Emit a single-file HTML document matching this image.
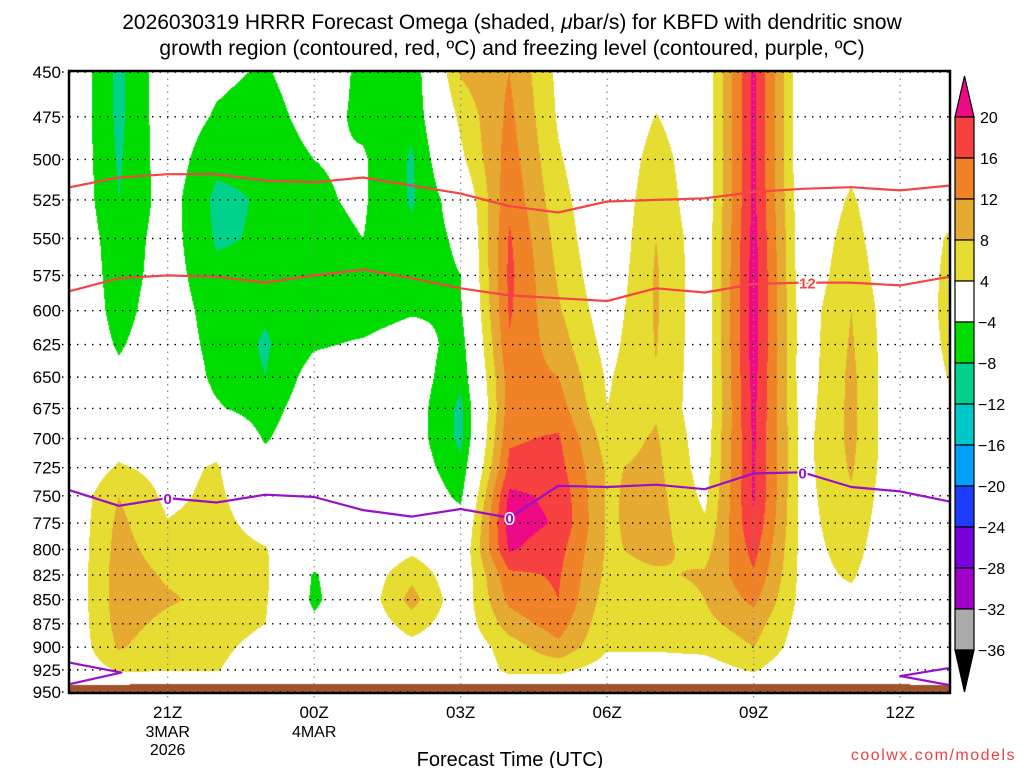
<!DOCTYPE html>
<html><head><meta charset="utf-8">
<style>
html,body{margin:0;padding:0;background:#fff;}
#wrap{position:relative;width:1024px;height:768px;overflow:hidden;font-family:"Liberation Sans",sans-serif;}
canvas{position:absolute;left:0;top:0;}
svg{position:absolute;left:0;top:0;}
</style></head>
<body>
<div id="wrap">
<canvas id="cv" width="1024" height="768"></canvas>
<svg id="sv" width="1024" height="768" xmlns="http://www.w3.org/2000/svg">
  <text x="512" y="29" text-anchor="middle" font-size="21" fill="#000">2026030319 HRRR Forecast Omega (shaded, <tspan font-style="italic">μ</tspan>bar/s) for KBFD with dendritic snow</text>
  <text x="512" y="55" text-anchor="middle" font-size="21" fill="#000">growth region (contoured, red, ºC) and freezing level (contoured, purple, ºC)</text>
  <text x="510" y="766" text-anchor="middle" font-size="20" fill="#000">Forecast Time (UTC)</text>
  <text x="1016" y="760" text-anchor="end" font-size="16" fill="#f04040" letter-spacing="1.5">coolwx.com/models</text>
  <g id="gGrid"></g>
  <g id="gLines"></g>
  <g id="gAxes"></g>
  <g id="gBar"></g>
</svg>
</div>
<script>
// ---- data ----
const hours = ["19Z","20Z","21Z","22Z","23Z","00Z","01Z","02Z","03Z","04Z","05Z","06Z","07Z","08Z","09Z","10Z","11Z","12Z","13Z"];
const levels = [450,475,500,525,550,575,600,625,650,675,700,725,750,775,800,825,850,875,900,925,950];
const omega = [
 [0,0,0,0,0,0,0,0,0,0,0,0,0.5,0.5,0.5,0.5,0.5,0.5,0.5,0.5,0],
 [-9,-9,-8.5,-8,-6.5,-6,-5.5,-4.5,-3,0,2,4.5,8,9,9.5,10,10,9.5,8.5,4.5,0],
 [-1,-1,-1.5,-2,-2,-2,-1.5,-1,0,0,1,2.5,3,4.2,6,7.5,8.5,7,5.5,4.2,0],
 [-3,-4.5,-7,-9,-8.5,-7,-6,-5.5,-5,-3.5,2,4.5,5,5.5,6,6.5,6.8,6,5,4.2,0],
 [-4.5,-6,-7,-7.5,-7.5,-7,-7.5,-8.5,-8,-6,-4.5,-2,0,2,4.3,4.8,4.5,4,2.5,1.5,0],
 [-1,-2,-4,-4.5,-5,-5.5,-5.5,-4.5,-2,-1,0,0,0,0,-1,-4.5,-5,-3,-1,0,0],
 [-5,-5,-3.5,-3.5,-4,-6,-6,-3.5,-1,0,0,0,0,0,0,1,1,0.5,0,0,0],
 [-7,-7,-8.5,-8.5,-7,-6.5,-4.5,-1.5,-1.5,-1.5,-1.5,-1,0,0,3,7,9.5,6,2.5,0,0],
 [8.5,5,3,-1,-3,-4,-4.5,-6,-7,-9,-9,-7,-5,-2,0,0.5,1,1,0.5,0,0],
 [12,13,14,15,16.5,17,16.5,15.5,14,14,15.5,17,21,22,20.5,15,13,10,6,5,0],
 [3,3.5,4.5,5.5,6.5,7.5,8.5,10,12,14,16.5,17.5,19,19.5,17.5,16.5,16,14,11,5,0],
 [-1,-1,-0.5,0,0,0.5,1.5,2.5,3.5,4,6,7.5,7.5,7.5,7.5,7,6,5,4.5,2,0],
 [2,4.2,6,7,8,8.5,8.5,8.2,7.8,7.5,8.5,9,9.5,9.5,9,7.5,6,5,4.5,2,0],
 [0.5,0.5,0.5,0.5,1,1,1,1,1,1,1.5,2,3,4.5,6.5,8.5,8,7,5,2,0],
 [21,21,21,21,21.5,22,22,22,21.5,21,20.8,20.5,20.5,19.5,17.5,15.5,13,10,8,4.5,0],
 [0,0,0,0.5,1,1,1.5,1.5,1.5,2,2.5,2.5,2.5,2.5,2.5,2.5,2.5,2,1.5,0,0],
 [1,2,3,4.5,5.5,6.5,8,8.5,9,9,9,8.5,7.5,6.5,5.5,4.5,3,2,1,0,0],
 [0,0,0,0,0,0,0,0,0,0,0,0,0,0,0,0,0,0,0,0,0],
 [0,0,0,2,4.5,5,5.2,4.8,4.2,2,0,0,0,0,0,0,0,0,0,0,0]
];
const dgzTopP = [517,511,509,509,513,514,511,516,521,529,533,526,525,524,520,518,517,519,516];
const dgzBotP = [586,577,575,576,580,575,571,577,584,589,591,593,584,587,581,580,580,582,576];
const frzP = [745,759,752,756,749,751,763,769,762,770,741,742,740,744,730,729,742,746,755];
const frzLowLeftH = [0,1.05,0];
const frzLowLeftP = [917,928,941];
const frzLowRightH = [18,17,18];
const frzLowRightP = [923,932,942];
const yTicks = [450,475,500,525,550,575,600,625,650,675,700,725,750,775,800,825,850,875,900,925,950];
const xTickHours = [2,5,8,11,14,17];
const xTickLabels = ["21Z","00Z","03Z","06Z","09Z","12Z"];
const xTickSub1 = ["3MAR","4MAR","","","",""];
const xTickSub2 = ["2026","","","","",""];
const barBounds = [20,16,12,8,4,-4,-8,-12,-16,-20,-24,-28,-32,-36];
const barColors = ["#ee0a87","#f74040","#f08228","#e6aa32","#e6dc32","#ffffff","#00dc00","#00d28c","#00c8c8","#00a0ff","#1e3cff","#7800dc","#a000c8","#aaaaaa","#000000"];

// ---- scales ----
const X0=70, X1=949, Y0=72, Y1=692;
const hourW=(X1-X0)/18;
function xs(h){return X0+h*hourW;}
function ys(p){return Y0+(Math.log(p)-Math.log(450))/(Math.log(950)-Math.log(450))*(Y1-Y0);}
function pOfY(y){return Math.exp(Math.log(450)+(y-Y0)/(Y1-Y0)*(Math.log(950)-Math.log(450)));}
function colorFor(v){
  if(v>=20) return barColors[0];
  for(let i=1;i<barBounds.length;i++){ if(v>=barBounds[i]) return barColors[i]; }
  return barColors[barColors.length-1];
}
function hex(c){return [parseInt(c.substr(1,2),16),parseInt(c.substr(3,2),16),parseInt(c.substr(5,2),16)];}

// ---- shading ----
const cv=document.getElementById('cv');const ctx=cv.getContext('2d');
ctx.fillStyle="#fff";ctx.fillRect(0,0,1024,768);
const W=X1-X0, H=Y1-Y0;
const img=ctx.createImageData(W,H);
const cache={};
for(let py=0;py<H;py++){
  const p=pOfY(Y0+py+0.5);
  let r=(p-450)/25; if(r<0)r=0; if(r>20)r=20;
  const r0=Math.min(19,Math.floor(r)), fr=r-r0;
  for(let px=0;px<W;px++){
    let h=(px+0.5)/hourW; if(h>18)h=18;
    const c0=Math.min(17,Math.floor(h)), fc=h-c0;
    const a=omega[c0][r0],b=omega[c0+1][r0],c=omega[c0][r0+1],d=omega[c0+1][r0+1];
    const v=(a*(1-fc)+b*fc)*(1-fr)+(c*(1-fc)+d*fc)*fr;
    const col=colorFor(v);
    const rgb=cache[col]||(cache[col]=hex(col));
    const k=(py*W+px)*4;
    img.data[k]=rgb[0];img.data[k+1]=rgb[1];img.data[k+2]=rgb[2];img.data[k+3]=255;
  }
}
ctx.putImageData(img,X0,Y0);
// terrain strip
ctx.fillStyle="#a0522d";
ctx.fillRect(X0,685,W,Y1-685);
ctx.fillRect(X0+60,684,780,1);

// ---- svg ----
const NS="http://www.w3.org/2000/svg";
function mk(tag,attrs,parent){const e=document.createElementNS(NS,tag);for(const k in attrs)e.setAttribute(k,attrs[k]);parent.appendChild(e);return e;}
const gGrid=document.getElementById('gGrid'),gLines=document.getElementById('gLines'),gAxes=document.getElementById('gAxes'),gBar=document.getElementById('gBar');

yTicks.forEach(function(p){
  const y=ys(p);
  const ln=mk('line',{x1:62,x2:X1,y1:y,y2:y,stroke:"#000","stroke-width":1.4,"stroke-dasharray":"1.5,6"},gGrid);
  
  
  const t=mk('text',{x:61,y:y+6,"text-anchor":"end","font-size":17,fill:"#000"},gAxes);
  t.textContent=p;
  
  
});
xTickHours.forEach(function(h,i){
  const x=xs(h);
  const ln=mk('line',{x1:x,x2:x,y1:Y0,y2:Y1+6,stroke:"#888","stroke-width":1.2,"stroke-dasharray":"1.5,5"},gGrid);
  
  
  const t=mk('text',{x:x,y:718,"text-anchor":"middle","font-size":17,fill:"#000"},gAxes);
  t.textContent=xTickLabels[i];
  
  
  if(xTickSub1[i]){
    const t2=mk('text',{x:x,y:737,"text-anchor":"middle","font-size":16,fill:"#000"},gAxes);
    t2.textContent=xTickSub1[i];
    
    
  }
  if(xTickSub2[i]){
    const t3=mk('text',{x:x,y:755,"text-anchor":"middle","font-size":16,fill:"#000"},gAxes);
    t3.textContent=xTickSub2[i];
    
    
  }
});
const frame=mk('rect',{x:X0-1,y:Y0-1,width:W+2,height:H+2,fill:"none",stroke:"#000","stroke-width":2.5},gAxes);



function poly(hs,ps,color,name){
  const pts=hs.map(function(h,i){return xs(h).toFixed(1)+","+ys(ps[i]).toFixed(1);}).join(" ");
  const pl=mk('polyline',{points:pts,fill:"none",stroke:color,"stroke-width":2.2,"stroke-linejoin":"round"},gLines);
  
  
}
const hIdx=hours.map(function(_,i){return i;});
poly(hIdx,dgzTopP,"#f54545","dgz-top-contour");
poly(hIdx,dgzBotP,"#f54545","dgz-minus12-contour");
poly(hIdx,frzP,"#9a10c8","freezing-level-contour");
poly(frzLowLeftH,frzLowLeftP,"#9a10c8","freezing-level-low-left");
poly(frzLowRightH,frzLowRightP,"#9a10c8","freezing-level-low-right");

function clabel(h,p,txt,color,name){
  const x=xs(h),y=ys(p);
  const t=mk('text',{x:x,y:y+6,"text-anchor":"middle","font-size":15,"font-weight":"bold",fill:color,stroke:"#fff","stroke-width":3,"paint-order":"stroke"},gLines);
  t.textContent=txt;
  
  
}
clabel(2,frzP[2],"0","#9a10c8","freezing-label-0");
clabel(9,frzP[9],"0","#9a10c8","freezing-label-0");
clabel(15,frzP[15],"0","#9a10c8","freezing-label-0");
clabel(15.1,dgzBotP[15],"12","#f54545","dgz-label-12");

// colorbar
const BX=955,BW=19,BT=117,BB=650,step=(BB-BT)/13;
const tri1=mk('polygon',{points:BX+","+BT+" "+(BX+BW)+","+BT+" "+(BX+BW/2)+",76",fill:barColors[0],stroke:"#000","stroke-width":1.2},gBar);


for(let i=1;i<barColors.length-1;i++){
  const r=mk('rect',{x:BX,y:BT+(i-1)*step,width:BW,height:step,fill:barColors[i],stroke:"#000","stroke-width":1.2},gBar);
  
  
}
const tri2=mk('polygon',{points:BX+","+BB+" "+(BX+BW)+","+BB+" "+(BX+BW/2)+",692",fill:"#000",stroke:"#000","stroke-width":1.2},gBar);


barBounds.forEach(function(b,i){
  const t=mk('text',{x:b<0?978:980,y:BT+i*step+6,"font-size":16,fill:"#000"},gBar);
  t.textContent=(b<0?"\u2212"+(-b):String(b));
  
  
});
</script>
</body></html>
